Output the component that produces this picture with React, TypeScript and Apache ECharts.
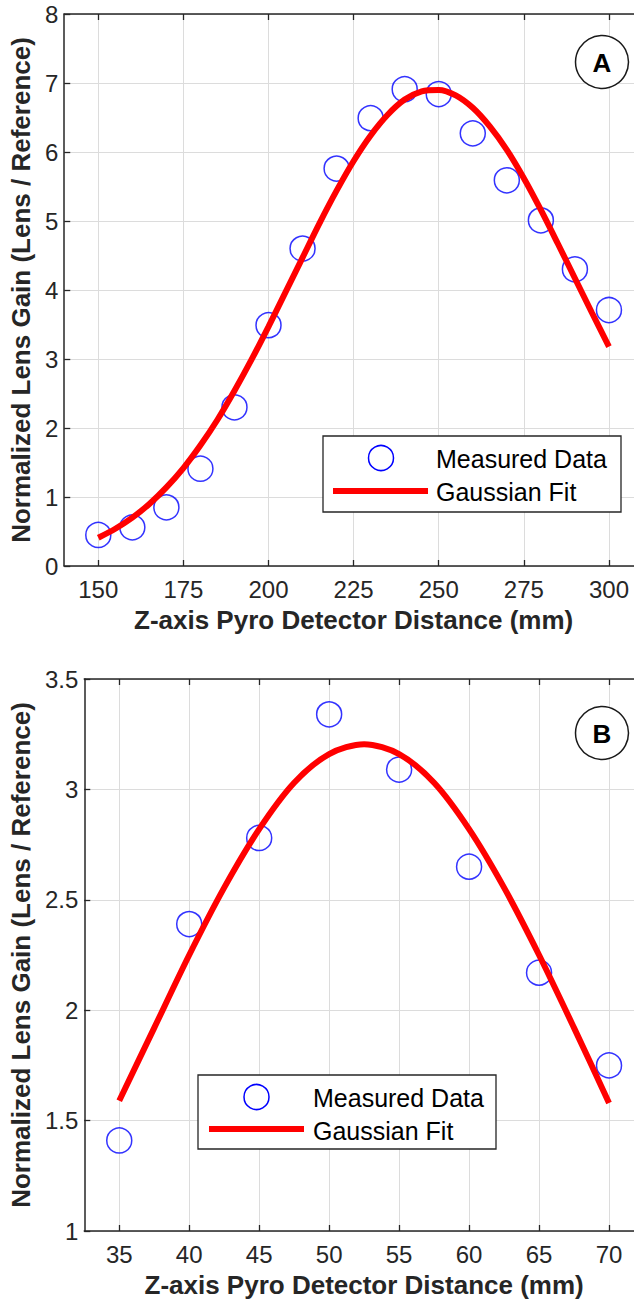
import React, { useEffect, useRef } from "react";
import * as echarts from "echarts";

// Panel A data
const distA = [150, 160, 170, 180, 190, 200, 210, 220, 230, 240, 250, 260, 270, 280, 290, 300];
const gainA = [0.45, 0.56, 0.85, 1.41, 2.3, 3.49, 4.6, 5.76, 6.49, 6.91, 6.84, 6.27, 5.59, 5.01, 4.3, 3.71];
const fitDistA = [150, 155, 160, 165, 170, 175, 180, 185, 190, 195, 200, 205, 210, 215, 220, 225, 230, 235, 240, 245, 250, 255, 260, 265, 270, 275, 280, 285, 290, 295, 300];
const fitGainA = [0.41, 0.54, 0.7, 0.9, 1.14, 1.42, 1.75, 2.12, 2.54, 2.99, 3.47, 3.97, 4.47, 4.97, 5.44, 5.87, 6.24, 6.54, 6.76, 6.88, 6.9, 6.82, 6.64, 6.37, 6.03, 5.62, 5.16, 4.67, 4.17, 3.67, 3.18];
const ticksXA = [150, 175, 200, 225, 250, 275, 300];

// Panel B data
const distB = [35, 40, 45, 50, 55, 60, 65, 70];
const gainB = [1.41, 2.39, 2.78, 3.34, 3.09, 2.65, 2.17, 1.75];
const fitDistB = [35, 37.5, 40, 42.5, 45, 47.5, 50, 52.5, 55, 57.5, 60, 62.5, 65, 67.5, 70];
const fitGainB = [1.59, 1.92, 2.25, 2.555, 2.82, 3.03, 3.16, 3.205, 3.16, 3.03, 2.82, 2.555, 2.25, 1.92, 1.58];
const ticksXB = [35, 40, 45, 50, 55, 60, 65, 70];

const xTitle = "Z-axis Pyro Detector Distance (mm)";
const yTitle = "Normalized Lens Gain (Lens / Reference)";
const legendNames = ["Measured Data", "Gaussian Fit"];

const FONT = "'Liberation Sans', Arial, Helvetica, sans-serif";
const AX = "#262626";
const GRIDC = "#dcdcdc";

function pairs(xs: number[], ys: number[]) {
  return xs.map((x, i) => [x, ys[i]]);
}

function bottomX(gridIndex: number, min: number, max: number, ticks: number[]) {
  return {
    type: "value",
    gridIndex,
    min,
    max,
    position: "bottom",
    name: xTitle,
    nameLocation: "middle",
    nameGap: 41,
    nameTextStyle: { fontFamily: FONT, fontSize: 26, fontWeight: "bold", color: AX },
    axisLine: { show: true, onZero: false, lineStyle: { color: AX, width: 1.5 } },
    axisTick: { show: true, inside: true, length: 6, customValues: ticks, lineStyle: { color: AX, width: 1.3 } },
    axisLabel: { show: true, customValues: ticks, margin: 11, fontFamily: FONT, fontSize: 24, color: AX },
    splitLine: { show: true, lineStyle: { color: GRIDC, width: 1 } },
  };
}

function topX(gridIndex: number, min: number, max: number, ticks: number[]) {
  return {
    type: "value",
    gridIndex,
    min,
    max,
    position: "top",
    axisLine: { show: true, onZero: false, lineStyle: { color: AX, width: 1.5 } },
    axisTick: { show: true, inside: true, length: 6, customValues: ticks, lineStyle: { color: AX, width: 1.3 } },
    axisLabel: { show: false },
    splitLine: { show: false },
  };
}

function leftY(gridIndex: number, min: number, max: number, interval: number, gap: number) {
  return {
    type: "value",
    gridIndex,
    min,
    max,
    interval,
    position: "left",
    name: yTitle,
    nameLocation: "middle",
    nameRotate: 90,
    nameGap: gap,
    nameTextStyle: { fontFamily: FONT, fontSize: 26, fontWeight: "bold", color: AX },
    axisLine: { show: true, onZero: false, lineStyle: { color: AX, width: 1.5 } },
    axisTick: { show: true, inside: true, length: 6, lineStyle: { color: AX, width: 1.3 } },
    axisLabel: { show: true, margin: 6, fontFamily: FONT, fontSize: 24, color: AX },
    splitLine: { show: true, lineStyle: { color: GRIDC, width: 1 } },
  };
}

function txt(x: number, y: number, text: string, size: number, bold: boolean, align: string) {
  return {
    type: "text",
    x,
    y,
    z: 100,
    style: {
      text,
      fontFamily: FONT,
      fontSize: size,
      fontWeight: bold ? "bold" : "normal",
      fill: "#000",
      align,
      verticalAlign: "middle",
      textAlign: align,
      textVerticalAlign: "middle",
    },
  };
}

function legendGroup(bx: number, by: number, bw: number, bh: number, cx: number, cy: number, lx1: number, lx2: number, ly: number, tx: number, ty1: number, ty2: number) {
  return [
    { type: "rect", z: 90, shape: { x: bx, y: by, width: bw, height: bh }, style: { fill: "#fff", stroke: AX, lineWidth: 1.3 } },
    { type: "circle", z: 100, shape: { cx, cy, r: 12.5 }, style: { fill: "none", stroke: "#0000ff", lineWidth: 1.5 } },
    { type: "line", z: 100, shape: { x1: lx1, y1: ly, x2: lx2, y2: ly }, style: { stroke: "#ff0000", lineWidth: 6 } },
    txt(tx, ty1, legendNames[0], 25, false, "left"),
    txt(tx, ty2, legendNames[1], 25, false, "left"),
  ];
}

function badge(cx: number, cy: number, letter: string) {
  return [
    { type: "circle", z: 90, shape: { cx, cy, r: 26.5 }, style: { fill: "#fff", stroke: "#1a1a1a", lineWidth: 1.5 } },
    txt(cx, cy + 1, letter, 26, true, "center"),
  ];
}

export default function App() {
  const ref = useRef<HTMLDivElement>(null);
  useEffect(() => {
    if (!ref.current) return;
    const chart = echarts.init(ref.current, null, { renderer: "svg" });
    const option: any = {
      animation: false,
      backgroundColor: "#fff",
      grid: [
        { left: 63, top: 14, width: 580, height: 552 },
        { left: 84, top: 679, width: 560, height: 552 },
      ],
      xAxis: [
        bottomX(0, 140, 310, ticksXA),
        topX(0, 140, 310, ticksXA),
        bottomX(1, 32.5, 72.5, ticksXB),
        topX(1, 32.5, 72.5, ticksXB),
      ],
      yAxis: [leftY(0, 0, 8, 1, 24), leftY(1, 1, 3.5, 0.5, 45)],
      series: [
        {
          name: legendNames[0],
          type: "scatter",
          xAxisIndex: 0,
          yAxisIndex: 0,
          data: pairs(distA, gainA),
          symbol: "circle",
          symbolSize: 25,
          itemStyle: { color: "rgba(0,0,0,0)", borderColor: "#0000ff", borderWidth: 1.5 },
          z: 3,
        },
        {
          name: legendNames[1],
          type: "line",
          xAxisIndex: 0,
          yAxisIndex: 0,
          data: pairs(fitDistA, fitGainA),
          smooth: 0.3,
          showSymbol: false,
          lineStyle: { color: "#ff0000", width: 6 },
          z: 4,
        },
        {
          name: legendNames[0],
          type: "scatter",
          xAxisIndex: 2,
          yAxisIndex: 1,
          data: pairs(distB, gainB),
          symbol: "circle",
          symbolSize: 25,
          itemStyle: { color: "rgba(0,0,0,0)", borderColor: "#0000ff", borderWidth: 1.5 },
          z: 3,
        },
        {
          name: legendNames[1],
          type: "line",
          xAxisIndex: 2,
          yAxisIndex: 1,
          data: pairs(fitDistB, fitGainB),
          smooth: 0.3,
          showSymbol: false,
          lineStyle: { color: "#ff0000", width: 6 },
          z: 4,
        },
      ],
      graphic: [
        ...legendGroup(323, 436, 298, 76, 381, 458, 333, 428, 491, 436, 459, 492),
        ...legendGroup(198, 1075, 298, 74, 256.5, 1097, 209, 304, 1129, 313, 1098, 1131),
        ...badge(602, 62, "A"),
        ...badge(602, 733, "B"),
      ],
    };
    chart.setOption(option);
    return () => chart.dispose();
  }, []);
  return (
    <div style={{ position: "absolute", left: 0, top: 0, width: 634, height: 1302, overflow: "hidden", background: "#fff" }}>
      <div ref={ref} style={{ width: 700, height: 1302 }} />
    </div>
  );
}
